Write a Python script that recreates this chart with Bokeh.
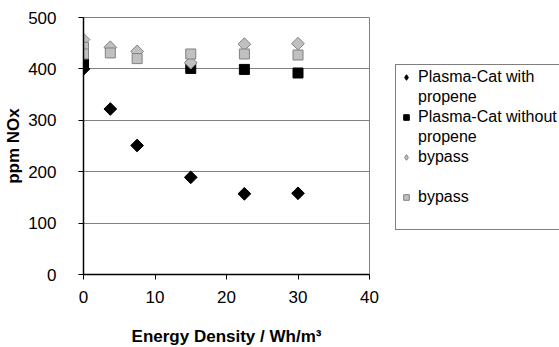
from bokeh.plotting import figure
from bokeh.models import Legend, LegendItem, Range1d, FixedTicker
from bokeh.embed import file_html
from bokeh.resources import INLINE

# Data
x_with = [0, 3.75, 7.5, 15, 22.5, 30]
y_with = [400, 322, 251, 189, 157, 158]

x_without = [0, 15, 22.5, 30]
y_without = [411, 401, 399, 392]

x_bypass_d = [0, 3.75, 7.5, 15, 22.5, 30]
y_bypass_d = [457, 442, 434, 412, 448, 449]

x_bypass_s = [0, 0, 3.75, 7.5, 15, 22.5, 30]
y_bypass_s = [442, 429, 431, 420, 429, 429, 427]

legend_lines = [("Plasma-Cat with", "propene"), ("Plasma-Cat without", "propene"),
                ("bypass", " "), ("bypass", " ")]

FONT = "Liberation Sans"

p = figure(frame_width=286, frame_height=257, output_backend="svg", toolbar_location=None,
           x_range=Range1d(0, 40), y_range=Range1d(0, 500),
           min_border_left=83, min_border_right=0, min_border_top=17, min_border_bottom=73)

p.outline_line_color = "#808080"
p.outline_line_width = 1
p.background_fill_color = "white"
p.border_fill_color = "white"

p.xgrid.visible = False
p.ygrid.grid_line_color = "#808080"
p.ygrid.grid_line_width = 1

p.xaxis.ticker = FixedTicker(ticks=[0, 10, 20, 30, 40])
p.yaxis.ticker = FixedTicker(ticks=[0, 100, 200, 300, 400, 500])
for ax in (p.xaxis[0], p.yaxis[0]):
    ax.axis_line_color = "black"
    ax.axis_line_width = 1.5
    ax.major_tick_line_color = "black"
    ax.major_tick_out = 5
    ax.major_tick_in = 0
    ax.minor_tick_line_color = None
    ax.major_label_text_font = FONT
    ax.major_label_text_font_size = "17px"
    ax.major_label_text_color = "black"
    ax.axis_label_text_font = FONT
    ax.axis_label_text_font_size = "17px"
    ax.axis_label_text_font_style = "bold"
    ax.axis_label_text_color = "black"

p.xaxis.axis_label = "Energy Density / Wh/m³"
p.yaxis.axis_label = "ppm NOx"
p.xaxis.major_label_standoff = 11
p.xaxis.axis_label_standoff = 21
p.yaxis.major_label_standoff = 22
p.yaxis.axis_label_standoff = 2

# legend-glyph diamonds, drawn underneath the (larger) rotated-square diamonds
g1 = p.scatter(x_with, y_with, marker="diamond", size=11, fill_color="black", line_color="black")
r1 = p.scatter(x_with, y_with, marker="square", angle=0.785398, size=9, fill_color="black", line_color="black")
r2 = p.scatter(x_without, y_without, marker="square", size=10, fill_color="black", line_color="black")
g3 = p.scatter(x_bypass_d, y_bypass_d, marker="diamond", size=11, fill_color="#c0c0c0", line_color="#808080")
r3 = p.scatter(x_bypass_d, y_bypass_d, marker="square", angle=0.785398, size=9, fill_color="#c0c0c0", line_color="#808080")
r4 = p.scatter(x_bypass_s, y_bypass_s, marker="square", size=10, fill_color="#c0c0c0", line_color="#808080")
blank = p.scatter(x_with, y_with, marker="square", size=1, fill_alpha=0, line_alpha=0)

items = []
for g, (l1, l2) in zip([g1, r2, g3, r4], legend_lines):
    items.append(LegendItem(label=l1, renderers=[g]))
    items.append(LegendItem(label=l2, renderers=[blank]))

legend = Legend(items=items, location=(26, 44))
legend.border_line_color = "black"
legend.border_line_width = 1
legend.label_text_font = FONT
legend.label_text_font_size = "16px"
legend.label_text_color = "black"
legend.glyph_width = 14
legend.glyph_height = 18
legend.label_height = 18
legend.label_standoff = 5
legend.padding = 3
legend.spacing = 2
legend.margin = 0
legend.background_fill_alpha = 1
p.add_layout(legend, "right")

open("out.html", "w").write(file_html(p, INLINE))
